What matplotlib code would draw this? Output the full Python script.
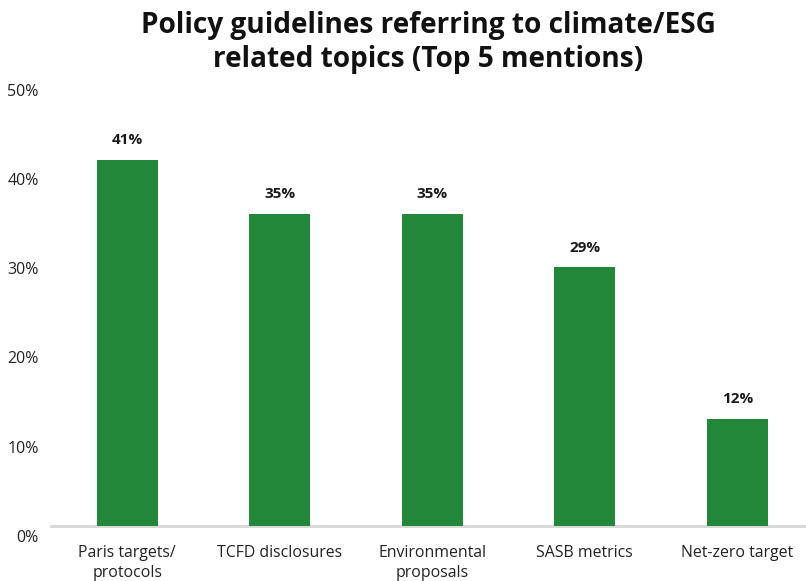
import matplotlib.pyplot as plt
import matplotlib.transforms as mtransforms
import numpy as np

plt.rcParams['font.family'] = ['Open Sans', 'DejaVu Sans']

categories = ["Paris targets/\nprotocols", "TCFD disclosures", "Environmental\nproposals",
              "SASB metrics", "Net-zero target"]
shares = [41, 35, 35, 29, 12]
bar_labels = ["41%", "35%", "35%", "29%", "12%"]
y_ticks = [0, 10, 20, 30, 40, 50]
y_tick_labels = ["0%", "10%", "20%", "30%", "40%", "50%"]

fig = plt.figure(figsize=(8.06, 5.81), dpi=100)
ax = fig.add_axes([0.0633, 0.0947, 0.9367, 0.7683])

x = np.arange(len(categories))
ax.bar(x, shares, width=0.4, color="#228738", zorder=3)

for xi, h, lab in zip(x, shares, bar_labels):
    ax.annotate(lab, (xi, h), xytext=(0, 9), textcoords="offset points",
                ha="center", va="bottom", fontsize=11, fontweight="bold", color="#1a1a1a")

ax.set_xlim(-0.5, 4.45)
ax.set_ylim(0, 50)
ax.set_yticks(y_ticks)
ax.set_yticklabels(y_tick_labels, fontsize=11.5, color="#222222")
ax.set_xticks(x)
ax.set_xticklabels(categories, fontsize=11.4, color="#222222", linespacing=1.3)
ax.tick_params(axis="y", length=0, pad=9)
ax.tick_params(axis="x", length=0, pad=14)

# the y labels sit a little lower than the gridline positions
offset = mtransforms.ScaledTranslation(0, -10 / 100, fig.dpi_scale_trans)
for t in ax.get_yticklabels():
    t.set_transform(t.get_transform() + offset)

for side in ["top", "right", "left"]:
    ax.spines[side].set_visible(False)
ax.spines["bottom"].set_color("#d9d9d9")
ax.spines["bottom"].set_linewidth(2.2)
ax.spines["bottom"].set_zorder(2)

ax.set_title("Policy guidelines referring to climate/ESG\nrelated topics (Top 5 mentions)",
             fontsize=20.2, fontweight="bold", color="#111111", pad=9, linespacing=1.25)

fig.savefig("out.png", dpi=100)
